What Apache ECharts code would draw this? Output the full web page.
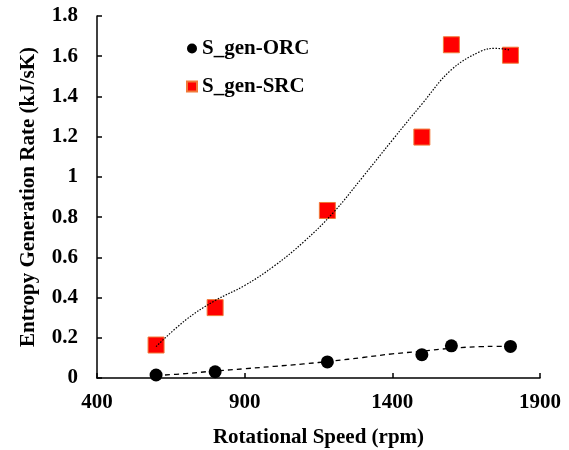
<!DOCTYPE html>
<html>
<head>
<meta charset="utf-8">
<script src="https://cdn.jsdelivr.net/npm/echarts@6/dist/echarts.min.js"></script>
<style>html,body{margin:0;padding:0;background:#fff}#c{width:569px;height:450px}</style>
</head>
<body>
<div id="c"></div>
<script>
// Measured data
const speeds = [600, 800, 1180, 1500, 1600, 1800];
const orcValues = [0.015, 0.031, 0.08, 0.116, 0.16, 0.157];
const srcValues = [0.164, 0.35, 0.833, 1.198, 1.657, 1.605];
// Trendlines
const srcTrendSpeeds = [600, 700, 800, 900, 1000, 1100, 1200, 1300, 1400, 1500, 1600, 1700, 1750, 1800];
const srcTrend = [0.156, 0.288, 0.385, 0.46, 0.557, 0.677, 0.822, 1.0, 1.183, 1.362, 1.533, 1.625, 1.639, 1.63];
const orcTrendSpeeds = [600, 700, 800, 900, 1000, 1100, 1200, 1300, 1400, 1500, 1600, 1700, 1750, 1800];
const orcTrend = [0.012, 0.022, 0.035, 0.046, 0.058, 0.07, 0.085, 0.102, 0.12, 0.133, 0.148, 0.156, 0.157, 0.157];
const xTicks = [400, 900, 1400, 1900];
const yTicks = [0, 0.2, 0.4, 0.6, 0.8, 1, 1.2, 1.4, 1.6, 1.8];

const FONT = '"Liberation Serif", "Times New Roman", serif';
const pair = (xs, ys) => xs.map((x, i) => [x, ys[i]]);

const chart = echarts.init(document.getElementById('c'));
chart.setOption({
  animation: false,
  backgroundColor: '#fff',
  grid: { left: 97, right: 29, top: 16, bottom: 72, containLabel: false, outerBoundsMode: 'none' },
  legend: {
    data: [
      { name: 'S_gen-ORC', icon: 'circle' },
      { name: 'S_gen-SRC', icon: 'rect' }
    ],
    orient: 'vertical',
    left: 181, top: 33,
    itemWidth: 10, itemHeight: 10, itemGap: 17,
    textStyle: { fontFamily: FONT, fontWeight: 'bold', fontSize: 21, color: '#000' }
  },
  xAxis: {
    type: 'value', min: xTicks[0], max: xTicks[xTicks.length - 1], interval: 500,
    name: 'Rotational Speed (rpm)', nameLocation: 'middle', nameGap: 49,
    nameTextStyle: { fontFamily: FONT, fontWeight: 'bold', fontSize: 21, color: '#000' },
    axisLine: { lineStyle: { color: '#000', width: 1.5 } },
    axisTick: { inside: true, length: 5, lineStyle: { color: '#000', width: 1.5 } },
    axisLabel: { fontFamily: FONT, fontWeight: 'bold', fontSize: 21, color: '#000', margin: 14,
      formatter: v => String(v) },
    splitLine: { show: false }
  },
  yAxis: {
    type: 'value', min: yTicks[0], max: yTicks[yTicks.length - 1], interval: 0.2,
    name: 'Entropy Generation Rate (kJ/sK)', nameLocation: 'middle', nameGap: 58,
    nameTextStyle: { fontFamily: FONT, fontWeight: 'bold', fontSize: 21, color: '#000' },
    axisLine: { show: true, lineStyle: { color: '#000', width: 1.5 } },
    axisTick: { show: true, inside: true, length: 5, lineStyle: { color: '#000', width: 1.5 } },
    axisLabel: { fontFamily: FONT, fontWeight: 'bold', fontSize: 21, color: '#000', margin: 19 },
    splitLine: { show: false }
  },
  series: [
    {
      name: 'S_gen-ORC', type: 'scatter', data: pair(speeds, orcValues),
      symbol: 'circle', symbolSize: 13, itemStyle: { color: '#000', opacity: 1 }, z: 2
    },
    {
      name: 'S_gen-SRC', type: 'scatter', data: pair(speeds, srcValues),
      symbol: 'rect', symbolSize: 16,
      itemStyle: { color: '#ff0000', borderColor: '#f07a3a', borderWidth: 1, opacity: 1 }, z: 2
    },
    {
      name: 'ORC trend', type: 'line', data: pair(orcTrendSpeeds, orcTrend),
      smooth: 0.4, showSymbol: false, symbol: 'none', z: 3, silent: true,
      lineStyle: { color: '#000', width: 1.3, type: [5, 4] }
    },
    {
      name: 'SRC trend', type: 'line', data: pair(srcTrendSpeeds, srcTrend),
      smooth: 0.4, showSymbol: false, symbol: 'none', z: 3, silent: true,
      lineStyle: { color: '#000', width: 1.2, type: [1.5, 1.5] }
    }
  ]
});
</script>
</body>
</html>
